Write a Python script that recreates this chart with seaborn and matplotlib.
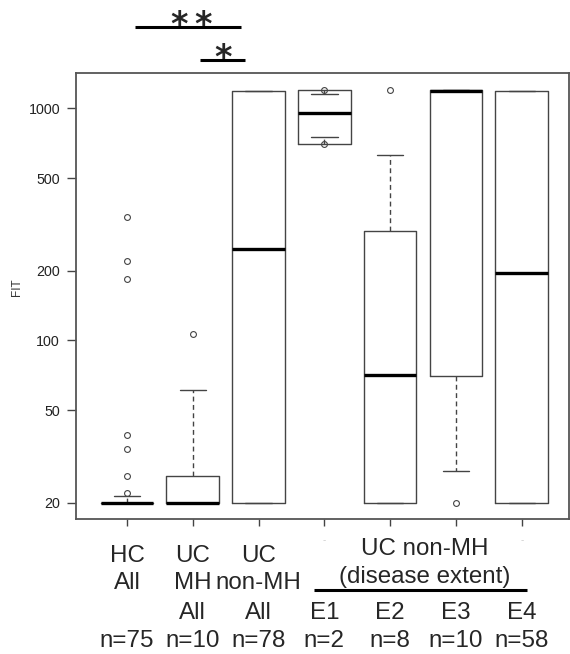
import matplotlib
matplotlib.use("Agg")
import matplotlib.pyplot as plt
import matplotlib.transforms as mtransforms
import seaborn as sns

# ---------------- data ----------------
groups = ["HC All", "UC MH All", "UC non-MH All", "E1", "E2", "E3", "E4"]
q1 = [20, 20, 20, 700, 20, 70, 20]
medians = [20, 20, 247, 950, 71, 1190, 195]
q3 = [20, 26, 1190, 1200, 297, 1195, 1190]
whisker_low = [20, 20, 20, 750, 20, 27.3, 20]
whisker_high = [21.3, 61, 1190, 1155, 630, 1195, 1190]
outliers = [[22, 26, 34, 39, 184, 220, 340], [107], [], [700, 1200], [1200], [20], []]

yticks = [20, 50, 100, 200, 500, 1000]
row1 = ["HC", "UC", "UC", "", "", "", ""]
row2 = ["All", "MH", "non-MH", "", "", "", ""]
row3 = ["", "All", "All", "E1", "E2", "E3", "E4"]
row4 = ["n=75", "n=10", "n=78", "n=2", "n=8", "n=10", "n=58"]
group_title = "UC non-MH"
group_sub = "(disease extent)"

# ---------------- style ----------------
sns.set_style("white")
plt.rcParams["font.family"] = ["Liberation Sans", "DejaVu Sans"]

W, H = 570, 654
fig = plt.figure(figsize=(W / 100, H / 100), dpi=100)
ax = fig.add_axes([76 / W, 1 - 519 / H, (569 - 76) / W, (519 - 73) / H])

stats = []
for i, g in enumerate(groups):
    stats.append(dict(label=g, q1=q1[i], med=medians[i], q3=q3[i],
                      whislo=whisker_low[i], whishi=whisker_high[i],
                      fliers=outliers[i]))

edge = "#444444"
positions = list(range(1, len(groups) + 1))
ax.bxp(stats, positions=positions, widths=0.8, capwidths=0.4,
       showfliers=True,
       boxprops=dict(color=edge, linewidth=1.0),
       medianprops=dict(color="black", linewidth=2.4, solid_capstyle="butt"),
       whiskerprops=dict(color=edge, linewidth=1.0, linestyle=(0, (3.5, 2.5))),
       capprops=dict(color=edge, linewidth=1.0),
       flierprops=dict(marker="o", markersize=4.2, markerfacecolor="none",
                       markeredgecolor=edge, markeredgewidth=0.8))

ax.set_yscale("log")
ax.set_ylim(17.02, 1419)
ax.set_xlim(0.2247, 7.719)
ax.set_yticks(yticks)
ax.set_yticklabels([str(v) for v in yticks])
ax.minorticks_off()
ax.set_xticks(positions)
ax.set_xticklabels([""] * len(positions))
ax.tick_params(axis="y", direction="out", length=6.5, width=1.0, color=edge,
               labelsize=10.3, pad=5, left=True, labelcolor="#222222")
ax.tick_params(axis="x", direction="out", length=5, width=1.0, color=edge,
               bottom=True)
ax.set_ylabel("FIT", fontsize=8.5, color="#333333")
ax.yaxis.set_label_coords((23 - 76) / (569 - 76), 0.52)
ax.set_xlabel("")
for s in ax.spines.values():
    s.set_color("#555555")
    s.set_linewidth(1.3)
    s.set_visible(True)

# ---------------- labels below the axis ----------------
tr = mtransforms.blended_transform_factory(ax.transData, fig.transFigure)
fs = 17.4
def fy(px):
    return 1 - px / H

for i, p in enumerate(positions):
    if row1[i]:
        ax.text(p, fy(561.7), row1[i], transform=tr, ha="center", va="baseline",
                fontsize=fs, clip_on=False)
    if row2[i]:
        ax.text(p, fy(589), row2[i], transform=tr, ha="center", va="baseline",
                fontsize=fs, clip_on=False)
    if row3[i]:
        ax.text(p, fy(619), row3[i], transform=tr, ha="center", va="baseline",
                fontsize=fs, clip_on=False)
    ax.text(p, fy(646.7), row4[i], transform=tr, ha="center", va="baseline",
            fontsize=fs, clip_on=False)

ax.text(5.53, fy(555), group_title, transform=tr, ha="center", va="baseline",
        fontsize=fs, clip_on=False)
ax.text(5.53, fy(583), group_sub, transform=tr, ha="center", va="baseline",
        fontsize=fs, clip_on=False)
ax.plot([3.84, 7.08], [fy(590), fy(590)], transform=tr, color="black",
        linewidth=2.2, clip_on=False, solid_capstyle="butt")

# faint tick remnants
for p in [4, 7]:
    ax.text(p, fy(543), "-", transform=tr, ha="center", va="baseline",
            fontsize=7, color="#cccccc", clip_on=False)

# ---------------- significance marks ----------------
def px2x(px):
    return 0.2247 + (px - 76) / (569 - 76) * (7.719 - 0.2247)

ax.plot([px2x(135), px2x(241)], [fy(26.7), fy(26.7)], transform=tr,
        color="black", linewidth=2.2, clip_on=False, solid_capstyle="butt")
ax.plot([px2x(200), px2x(245)], [fy(60), fy(60)], transform=tr,
        color="black", linewidth=2.2, clip_on=False, solid_capstyle="butt")
for cx, base in [(179, 35), (203.3, 35), (223, 68)]:
    ax.text(px2x(cx), fy(base), "*", transform=tr, ha="center", va="baseline",
            fontsize=24, fontweight="bold", family="DejaVu Sans", clip_on=False)

fig.savefig("out.png", dpi=100)
